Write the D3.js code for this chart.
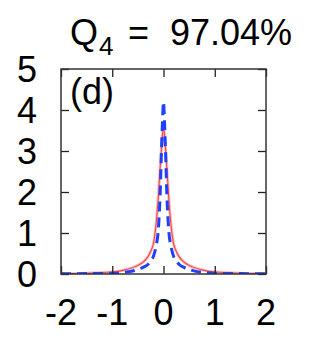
<!DOCTYPE html>
<html>
<head>
<meta charset="utf-8">
<script src="https://cdn.jsdelivr.net/npm/d3@7"></script>
<style>
  body { margin: 0; background: #fff; }
  text { font-family: "Liberation Sans", Arial, sans-serif; fill: #000; }
</style>
</head>
<body>
<script>
// values
const xs     = [-2, -1.5, -1, -0.75, -0.5, -0.4, -0.3, -0.25, -0.2, -0.15, -0.1, -0.065, -0.04, -0.02, 0, 0.02, 0.04, 0.065, 0.1, 0.15, 0.2, 0.25, 0.3, 0.4, 0.5, 0.75, 1, 1.5, 2];
const redY   = [0.01, 0.02, 0.05, 0.10, 0.21, 0.29, 0.43, 0.55, 0.72, 1.15, 1.90, 2.60, 3.05, 3.40, 3.58, 3.40, 3.05, 2.60, 1.90, 1.15, 0.72, 0.55, 0.43, 0.29, 0.21, 0.10, 0.05, 0.02, 0.01];
const blueY  = [0.005, 0.01, 0.02, 0.04, 0.11, 0.16, 0.24, 0.32, 0.42, 0.65, 1.10, 1.95, 3.00, 3.70, 4.20, 3.70, 3.00, 1.95, 1.10, 0.65, 0.42, 0.32, 0.24, 0.16, 0.11, 0.04, 0.02, 0.01, 0.005];
const xTicks = [-2, -1, 0, 1, 2];
const yTicks = [0, 1, 2, 3, 4, 5];

const W = 322, H = 340;
const m = {left: 61, right: 56, top: 69, bottom: 66};
const fs = 36;

const svg = d3.select("body").append("svg")
  .attr("width", W)
  .attr("height", H);

const x = d3.scaleLinear().domain([-2, 2]).range([m.left, W - m.right]);
const y = d3.scaleLinear().domain([0, 5]).range([H - m.bottom, m.top]);

// clip so curves stay in the box
svg.append("clipPath").attr("id", "clip")
  .append("rect")
  .attr("x", x(-2)).attr("y", y(5))
  .attr("width", x(2) - x(-2)).attr("height", y(0) - y(5));

const line = d3.line().curve(d3.curveMonotoneX);
const plot = svg.append("g").attr("clip-path", "url(#clip)");

plot.append("path")
  .attr("d", line(xs.map((v, i) => [x(v), y(redY[i])])))
  .attr("fill", "none")
  .attr("stroke", "#ffbcbc")
  .attr("stroke-width", 3);
plot.append("path")
  .attr("d", line(xs.map((v, i) => [x(v), y(redY[i])])))
  .attr("fill", "none")
  .attr("stroke", "#f24848")
  .attr("stroke-width", 1.1);

plot.append("path")
  .attr("d", line(xs.map((v, i) => [x(v), y(blueY[i])])))
  .attr("fill", "none")
  .attr("stroke", "#2040ff")
  .attr("stroke-width", 3)
  .attr("stroke-dasharray", "10,6");

// axes, ticks inward on all sides
const tl = 8;
svg.append("g")
  .attr("transform", `translate(0,${y(0)})`)
  .call(d3.axisBottom(x).tickValues(xTicks).tickSize(-tl).tickFormat(""))
  .call(g => g.select(".domain").remove());
svg.append("g")
  .attr("transform", `translate(0,${y(5)})`)
  .call(d3.axisTop(x).tickValues(xTicks).tickSize(-tl).tickFormat(""))
  .call(g => g.select(".domain").remove());
svg.append("g")
  .attr("transform", `translate(${x(-2)},0)`)
  .call(d3.axisLeft(y).tickValues(yTicks).tickSize(-tl).tickFormat(""))
  .call(g => g.select(".domain").remove());
svg.append("g")
  .attr("transform", `translate(${x(2)},0)`)
  .call(d3.axisRight(y).tickValues(yTicks).tickSize(-tl).tickFormat(""))
  .call(g => g.select(".domain").remove());
svg.selectAll(".tick line").attr("stroke", "#222").attr("stroke-width", 1.3);

svg.append("rect")
  .attr("x", x(-2)).attr("y", y(5))
  .attr("width", x(2) - x(-2)).attr("height", y(0) - y(5))
  .attr("fill", "none")
  .attr("stroke", "#333")
  .attr("stroke-width", 1.5);

// tick labels
svg.append("g").selectAll("text")
  .data(yTicks)
  .join("text")
  .attr("x", 37)
  .attr("y", d => y(d) + 12.5)
  .attr("text-anchor", "end")
  .attr("font-size", fs)
  .text(d => d);

svg.append("g").selectAll("text")
  .data(xTicks)
  .join("text")
  .attr("x", d => x(d))
  .attr("y", 325)
  .attr("text-anchor", "middle")
  .attr("font-size", fs)
  .text(d => d);

// panel label and title
svg.append("text")
  .attr("x", 70).attr("y", 104)
  .attr("font-size", fs)
  .text("(d)");

const title = svg.append("text")
  .attr("x", 70).attr("y", 45)
  .attr("font-size", fs);
title.append("tspan").text("Q");
title.append("tspan").attr("x", 99).attr("dy", 10).attr("font-size", 26).text("4");
title.append("tspan").attr("x", 128).attr("dy", -10).text("=");
title.append("tspan").attr("x", 170).text("97.04%");
</script>
</body>
</html>
